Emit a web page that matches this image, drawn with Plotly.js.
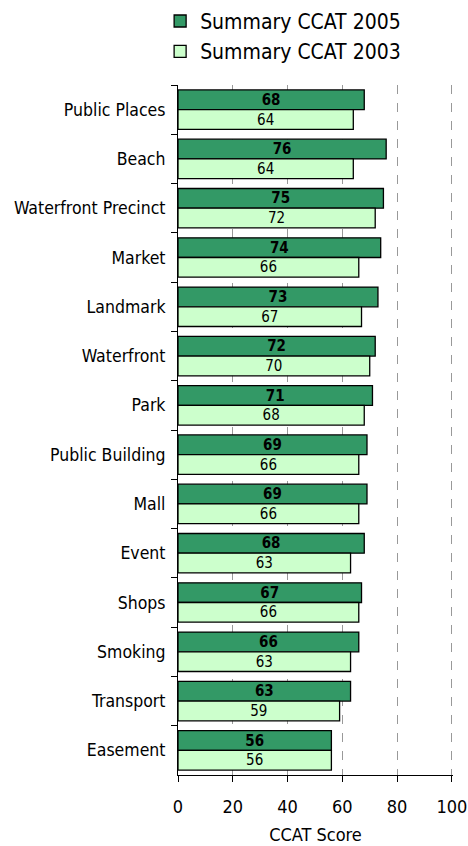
<!DOCTYPE html>
<html><head><meta charset="utf-8">
<script src="https://cdn.plot.ly/plotly-3.0.1.min.js"></script>
<style>html,body{margin:0;padding:0;background:#fff}#chart{width:468px;height:846px}</style>
</head><body><div id="chart"></div>
<script>
const categories = ["Public Places","Beach","Waterfront Precinct","Market","Landmark","Waterfront","Park","Public Building","Mall","Event","Shops","Smoking","Transport","Easement"];
const ccat2005 = [68,76,75,74,73,72,71,69,69,68,67,66,63,56];
const ccat2003 = [64,64,72,66,67,70,68,66,66,63,66,63,59,56];
const xTicks = [0,20,40,60,80,100];

const FONT = '"Liberation Sans Narrow", "Arial Narrow", "DejaVu Sans Condensed", "Liberation Sans", Arial, sans-serif';

const traces = [
  {type:'bar', orientation:'h', name:'Summary CCAT 2005', y:categories, x:ccat2005,
   text:ccat2005.map(String), textposition:'inside', insidetextanchor:'middle', textangle:0,
   constraintext:'none',
   textfont:{family:FONT, size:15, color:'#000', weight:'bold'},
   marker:{color:'#339966', line:{color:'#000', width:1.3}}, hoverinfo:'none'},
  {type:'bar', orientation:'h', name:'Summary CCAT 2003', y:categories, x:ccat2003,
   text:ccat2003.map(String), textposition:'inside', insidetextanchor:'middle', textangle:0,
   constraintext:'none',
   textfont:{family:FONT, size:15, color:'#000'},
   marker:{color:'#ccffcc', line:{color:'#000', width:1.3}}, hoverinfo:'none'}
];

const layout = {
  width:468, height:846,
  margin:{l:178, r:15, t:85, b:71},
  paper_bgcolor:'#fff', plot_bgcolor:'#fff',
  font:{family:FONT, color:'#000'},
  barmode:'group', bargap:0.2, bargroupgap:0,
  showlegend:true,
  legend:{x:-0.065, xref:'paper', y:0.999, yref:'container', xanchor:'left', yanchor:'top',
          traceorder:'normal', font:{family:FONT, size:21, color:'#000'}, bgcolor:'rgba(0,0,0,0)'},
  xaxis:{range:[0,100.4], tickvals:xTicks, ticktext:xTicks.map(String),
         showgrid:true, gridcolor:'#999', griddash:'dash', gridwidth:1,
         zeroline:false, showline:true, linecolor:'#000', linewidth:1,
         ticks:'outside', ticklen:6, tickcolor:'#000', ticklabelstandoff:9,
         tickfont:{family:FONT, size:18, color:'#000'},
         title:{text:'CCAT Score', font:{family:FONT, size:18, color:'#000'}, standoff:12},
         fixedrange:true},
  yaxis:{type:'category', autorange:'reversed', showline:true, linecolor:'#000', linewidth:1,
         ticks:'outside', tickson:'boundaries', ticklen:6, tickcolor:'#000',
         showgrid:false, ticklabelstandoff:8,
         tickfont:{family:FONT, size:17.5, color:'#000'}, fixedrange:true}
};

Plotly.newPlot('chart', traces, layout, {staticPlot:true});
</script></body></html>
